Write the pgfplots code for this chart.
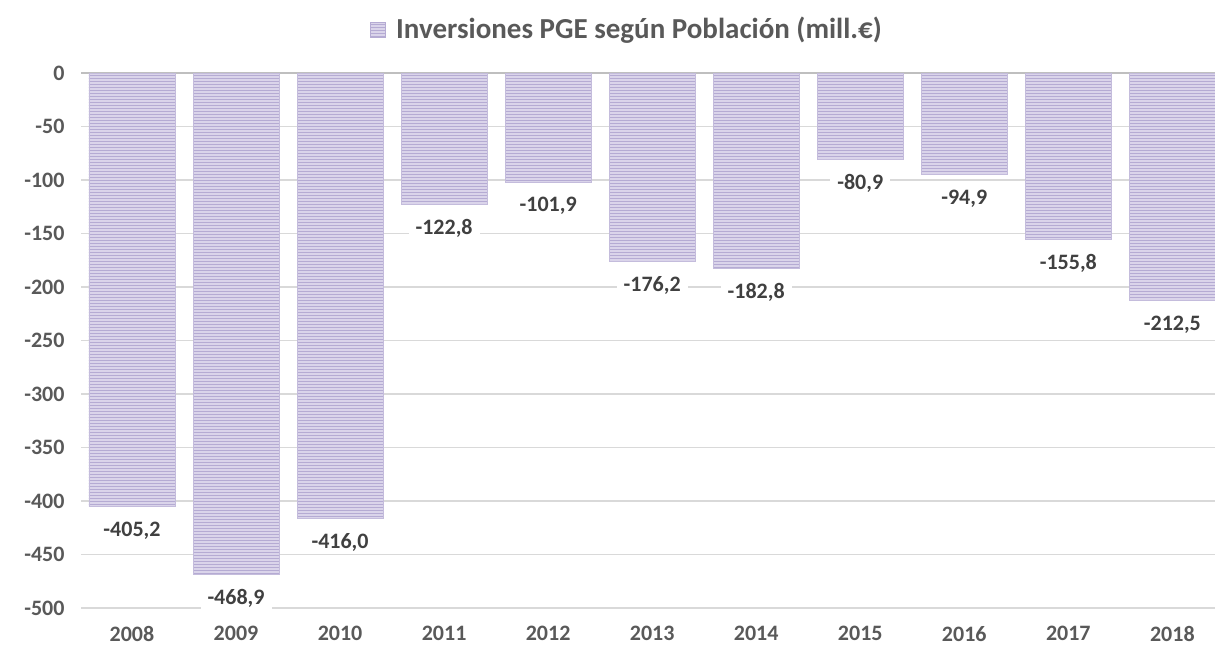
\documentclass[border=0pt]{standalone}
\usepackage{fontspec}
\setmainfont{Carlito}
\usepackage{pgfplots}
\pgfplotsset{compat=1.18}
\usetikzlibrary{patterns}
\definecolor{txt}{HTML}{595959}
\definecolor{lbl}{HTML}{404040}
\definecolor{gridc}{HTML}{D9D9D9}
\definecolor{zeroc}{HTML}{BFBFBF}
\definecolor{barfill}{HTML}{DAD4EA}
\definecolor{barline}{HTML}{B5ABD3}
\pgfplotstableread{
x y lab
0 -405.2 -405,2
1 -468.9 -468,9
2 -416.0 -416,0
3 -122.8 -122,8
4 -101.9 -101,9
5 -176.2 -176,2
6 -182.8 -182,8
7 -80.9 -80,9
8 -94.9 -94,9
9 -155.8 -155,8
10 -212.5 -212,5
}\datatable
\begin{document}
\begin{tikzpicture}
\path[use as bounding box] (0,0) rectangle (1215pt,649pt);
\begin{axis}[
  at={(81pt,41pt)}, anchor=south west,
  scale only axis, width=1134pt, height=535pt,
  xmin=-0.49, xmax=10.41, ymin=-500, ymax=0,
  ybar, bar width=86pt,
  axis line style={draw=none}, major tick length=0pt,
  ymajorgrids, grid style={gridc, line width=1.2pt},
  ytick={-500,-450,-400,-350,-300,-250,-200,-150,-100,-50,0},
  yticklabels={-500,-450,-400,-350,-300,-250,-200,-150,-100,-50,0},
  xtick={0,1,2,3,4,5,6,7,8,9,10},
  xticklabels={2008,2009,2010,2011,2012,2013,2014,2015,2016,2017,2018},
  tick label style={font=\bfseries\fontsize{22}{22}\selectfont, text=txt},
  yticklabel style={xshift=-13pt},
  xticklabel style={yshift=-15pt},
  extra y ticks={0}, extra y tick labels={},
  extra y tick style={grid style={zeroc, line width=2.5pt}},
  point meta=explicit symbolic,
  nodes near coords,
  every node near coord/.append style={anchor=center, yshift=-24pt, fill=white,
     inner xsep=7pt, inner ysep=3pt, font=\bfseries\fontsize{22}{22}\selectfont, text=lbl},
]
\addplot[fill=barfill, draw=barline!80, line width=0.6pt,
  postaction={pattern=horizontal lines, pattern color=barline}]
  table[x=x, y=y, meta=lab] {\datatable};
\end{axis}
\node[fill=barfill, draw=barline, line width=0.5pt, minimum size=15pt, inner sep=0pt,
  postaction={pattern=horizontal lines, pattern color=barline}] at (378pt,619pt) {};
\node[anchor=west, text=txt, font=\bfseries\fontsize{29}{29}\selectfont, inner sep=0pt]
  at (396pt,619pt) {Inversiones PGE según Población (mill.€)};
\end{tikzpicture}
\end{document}
